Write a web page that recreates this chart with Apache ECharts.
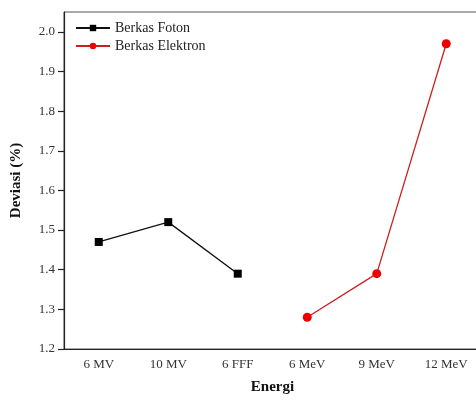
<!DOCTYPE html>
<html><head><meta charset="utf-8">
<script src="https://cdn.jsdelivr.net/npm/echarts@6/dist/echarts.min.js"></script>
<style>html,body{margin:0;padding:0;background:#fff}#c{width:476px;height:400px}</style>
</head><body><div id="c"></div>
<script>
const categories = ['6 MV','10 MV','6 FFF','6 MeV','9 MeV','12 MeV'];
const fotonValues = [1.47, 1.52, 1.39, null, null, null];
const elektronValues = [null, null, null, 1.28, 1.39, 1.97];
const yTicks = [1.2, 1.3, 1.4, 1.5, 1.6, 1.7, 1.8, 1.9, 2.0];
const font = 'Liberation Serif';
const chart = echarts.init(document.getElementById('c'));
chart.setOption({
  animation: false,
  grid: {left: 64, width: 417, top: 12, bottom: 51, show: true, borderColor: '#555', borderWidth: 1,
         backgroundColor: 'transparent', outerBoundsMode: 'none', containLabel: false},
  legend: {
    orient: 'vertical', left: 70, top: 16, itemWidth: 34, itemHeight: 8, itemGap: 4,
    textStyle: {fontFamily: font, fontSize: 14, color: '#222'},
    data: ['Berkas Foton', 'Berkas Elektron']
  },
  xAxis: {
    type: 'category', data: categories, boundaryGap: true,
    name: 'Energi', nameLocation: 'middle', nameGap: 31,
    nameTextStyle: {fontFamily: font, fontSize: 15, fontWeight: 'bold', color: '#111'},
    axisLine: {lineStyle: {color: '#222', width: 1.2}},
    axisTick: {alignWithLabel: true, length: 5, lineStyle: {color: '#222'}},
    axisLabel: {fontFamily: font, fontSize: 13, color: '#333', margin: 9}
  },
  yAxis: {
    type: 'value', min: 1.2, max: 2.05,
    name: 'Deviasi (%)', nameLocation: 'middle', nameGap: 40,
    nameTextStyle: {fontFamily: font, fontSize: 15, fontWeight: 'bold', color: '#111'},
    axisLine: {show: true, lineStyle: {color: '#222', width: 1.2}},
    axisTick: {show: true, length: 6, lineStyle: {color: '#222', width: 1.2}, customValues: yTicks},
    splitLine: {show: false},
    axisLabel: {fontFamily: font, fontSize: 13, color: '#333', margin: 9, customValues: yTicks,
      formatter: v => v.toFixed(1)}
  },
  series: [
    {name: 'Berkas Foton', type: 'line', data: fotonValues, symbol: 'rect', symbolSize: 8,
     lineStyle: {color: '#111', width: 1.3}, itemStyle: {color: '#000'}, connectNulls: false},
    {name: 'Berkas Elektron', type: 'line', data: elektronValues, symbol: 'circle', symbolSize: 9,
     lineStyle: {color: '#cc2020', width: 1.3}, itemStyle: {color: '#ee0000'}, connectNulls: false}
  ]
});
</script></body></html>
